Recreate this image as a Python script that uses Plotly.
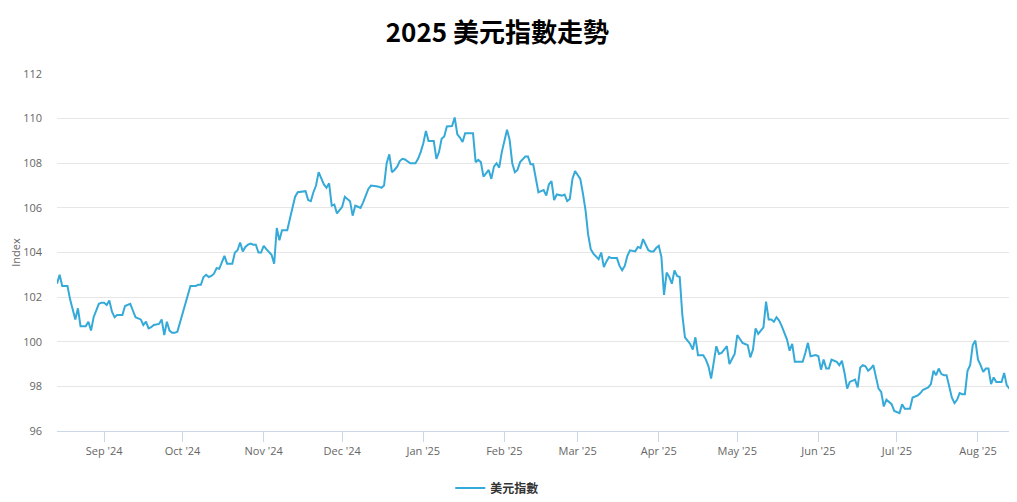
import pandas as pd
import plotly.graph_objects as go

# daily closes (weekends carry the Friday value), 2024-08-14 .. 2025-08-14
start_date = "2024-08-14"
dxy = [
    102.6, 103.0, 102.5, 102.5, 102.5, 101.9, 101.4, 101.0, 101.5, 100.7,
    100.7, 100.7, 100.9, 100.5, 101.1, 101.4, 101.7, 101.75, 101.75, 101.65,
    101.85, 101.35, 101.1, 101.2, 101.2, 101.2, 101.6, 101.65, 101.7, 101.4,
    101.1, 101.05, 101.0, 100.75, 100.9, 100.6, 100.65, 100.75, 100.78, 100.8,
    101.0, 100.3, 100.9, 100.5, 100.4, 100.4, 100.45, 100.85, 101.25, 101.7,
    102.0, 102.5, 102.5, 102.5, 102.55, 102.55, 102.9, 103.0, 102.9, 102.95,
    103.05, 103.3, 103.27, 103.55, 103.85, 103.5, 103.5, 103.5, 104.0, 104.1,
    104.45, 104.05, 104.25, 104.35, 104.4, 104.35, 104.35, 104.0, 104.0, 104.3,
    104.15, 104.0, 103.9, 103.5, 105.1, 104.55, 105.0, 105.0, 105.0, 105.5,
    106.0, 106.5, 106.7, 106.72, 106.74, 106.75, 106.35, 106.3, 106.7, 107.0,
    107.6, 107.3, 107.05, 106.9, 107.1, 106.1, 106.15, 105.75, 105.9, 106.05,
    106.5, 106.4, 106.3, 105.65, 106.1, 106.05, 106.0, 106.25, 106.6, 106.85,
    107.0, 107.0, 106.97, 106.95, 106.9, 107.0, 108.0, 108.4, 107.6, 107.7,
    107.85, 108.1, 108.2, 108.17, 108.1, 108.0, 108.0, 108.0, 108.2, 108.5,
    108.9, 109.45, 109.0, 109.0, 109.0, 108.2, 108.5, 109.1, 109.2, 109.65,
    109.65, 109.67, 110.05, 109.3, 109.15, 108.95, 109.35, 109.35, 109.35, 109.35,
    108.05, 108.15, 108.05, 107.4, 107.55, 107.7, 107.3, 107.85, 108.0, 107.8,
    108.5, 109.0, 109.5, 109.05, 108.0, 107.6, 107.7, 108.05, 108.2, 108.3,
    108.3, 107.95, 107.95, 107.3, 106.7, 106.75, 106.8, 106.55, 107.05, 107.2,
    106.35, 106.6, 106.58, 106.55, 106.6, 106.3, 106.4, 107.3, 107.65, 107.5,
    107.3, 106.65, 105.9, 104.8, 104.15, 103.95, 103.8, 103.7, 104.0, 103.35,
    103.6, 103.8, 103.75, 103.75, 103.75, 103.4, 103.2, 103.4, 103.85, 104.1,
    104.08, 104.05, 104.25, 104.2, 104.6, 104.35, 104.1, 104.05, 104.05, 104.2,
    104.3, 103.8, 102.1, 103.1, 102.9, 102.6, 103.2, 102.95, 102.9, 101.2,
    100.2, 100.05, 99.9, 99.65, 100.2, 99.4, 99.4, 99.4, 99.2, 98.9,
    98.35, 99.0, 99.8, 99.45, 99.5, 99.65, 99.8, 99.0, 99.2, 99.45,
    100.3, 100.1, 99.95, 99.9, 99.85, 99.3, 99.65, 100.6, 100.35, 100.5,
    100.65, 101.8, 101.0, 101.0, 100.9, 101.1, 100.95, 100.7, 100.4, 100.1,
    99.6, 99.9, 99.1, 99.1, 99.1, 99.1, 99.5, 99.95, 99.35, 99.38,
    99.4, 99.35, 98.75, 99.2, 98.8, 98.8, 99.2, 99.15, 99.1, 98.95,
    99.15, 98.6, 97.9, 98.2, 98.25, 98.3, 97.95, 98.85, 98.95, 98.9,
    98.7, 98.8, 98.95, 98.4, 97.9, 97.75, 97.1, 97.4, 97.3, 97.2,
    96.9, 96.85, 96.8, 97.2, 97.0, 97.0, 97.0, 97.5, 97.55, 97.6,
    97.7, 97.85, 97.9, 97.95, 98.1, 98.7, 98.5, 98.8, 98.55, 98.5,
    98.5, 98.0, 97.5, 97.25, 97.4, 97.7, 97.65, 97.65, 98.7, 98.95,
    99.85, 100.05, 99.2, 98.95, 98.65, 98.8, 98.8, 98.1, 98.4, 98.2,
    98.2, 98.2, 98.6, 98.05, 97.9, 97.9,
]
dates = pd.date_range(start_date, periods=len(dxy), freq="D")

y_ticks = [96, 98, 100, 102, 104, 106, 108, 110, 112]
month_ticks = pd.date_range("2024-09-01", "2025-08-01", freq="MS")

fig = go.Figure()
fig.add_trace(go.Scatter(
    x=dates,
    y=dxy,
    mode="lines",
    name="<b>美元指數</b>",
    line=dict(color="#35aad8", width=2),
))

# page body adds 8px, so the figure is a bit smaller than the window
fig.update_layout(
    width=1009,
    height=494,
    margin=dict(l=49, r=5, t=66, b=71, autoexpand=False),
    plot_bgcolor="white",
    paper_bgcolor="white",
    font=dict(family="Open Sans, Noto Sans CJK TC", size=11, color="#666666"),
    title=dict(
        text="<b>2025 美元指數走勢</b>",
        x=0.485,
        xanchor="center",
        y=0.949,
        yanchor="middle",
        font=dict(family="Noto Sans CJK TC", size=26, color="#000000"),
    ),
    showlegend=True,
    legend=dict(
        orientation="h",
        x=0.461,
        xanchor="center",
        y=-0.16,
        yanchor="middle",
        font=dict(family="Noto Sans CJK TC", size=12, color="#333333"),
        itemwidth=30,
    ),
)

fig.update_xaxes(
    range=[dates[0], dates[-1]],
    tickvals=month_ticks,
    tickformat="%b '%y",
    showgrid=False,
    showline=True,
    linecolor="#ccd6eb",
    ticks="outside",
    tickcolor="#ccd6eb",
    ticklen=10,
    tickfont=dict(size=11, color="#666666"),
    automargin=False,
)

fig.update_yaxes(
    range=[96, 112],
    tickvals=y_ticks,
    showgrid=True,
    gridcolor="#e6e6e6",
    zeroline=False,
    showline=False,
    ticks="",
    ticklabelstandoff=14,
    title=dict(text="Index", standoff=16, font=dict(size=11, color="#666666")),
    tickfont=dict(size=11, color="#666666"),
    automargin=False,
)

fig.write_html("out.html")
